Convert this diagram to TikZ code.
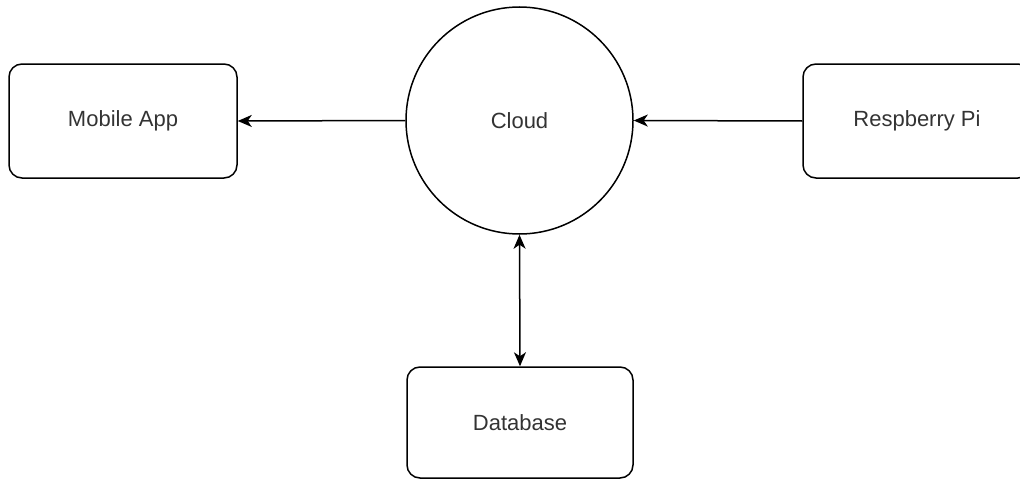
\documentclass[tikz,border=0pt]{standalone}
\usepackage{fontspec}
\setmainfont{Liberation Sans}
\usetikzlibrary{arrows.meta}
\definecolor{txt}{HTML}{333333}
\tikzset{
  box/.style={draw=black, line width=1.5pt, rounded corners=13pt, minimum width=228pt, minimum height=114pt, inner sep=0pt, text=txt, font=\fontsize{22}{26}\selectfont},
  cloudnode/.style={draw=black, line width=1.5pt, circle, minimum size=227pt, inner sep=0pt, text=txt, font=\fontsize{22}{26}\selectfont},
  conn/.style={line width=1.5pt, draw=black},
  tip/.tip={Stealth[length=14pt,width=12pt,inset=4pt]}
}
\begin{document}
\begin{tikzpicture}[x=1pt,y=-1pt]
\useasboundingbox (0,0) rectangle (1020,479);
\node[box] (mobile) at (123,121) {Mobile App};
\node[cloudnode] (cloud) at (519.5,120.5) {Cloud};
\node[box] (rpi) at (917,121) {Respberry Pi};
\node[box, minimum width=226pt, minimum height=111pt] (db) at (520,422.5) {Database};
\draw[conn,-tip] (cloud.west) -- (mobile.east);
\draw[conn,-tip] (rpi.west) -- (cloud.east);
\draw[conn,tip-tip] (cloud.south) -- (db.north);
\end{tikzpicture}
\end{document}
